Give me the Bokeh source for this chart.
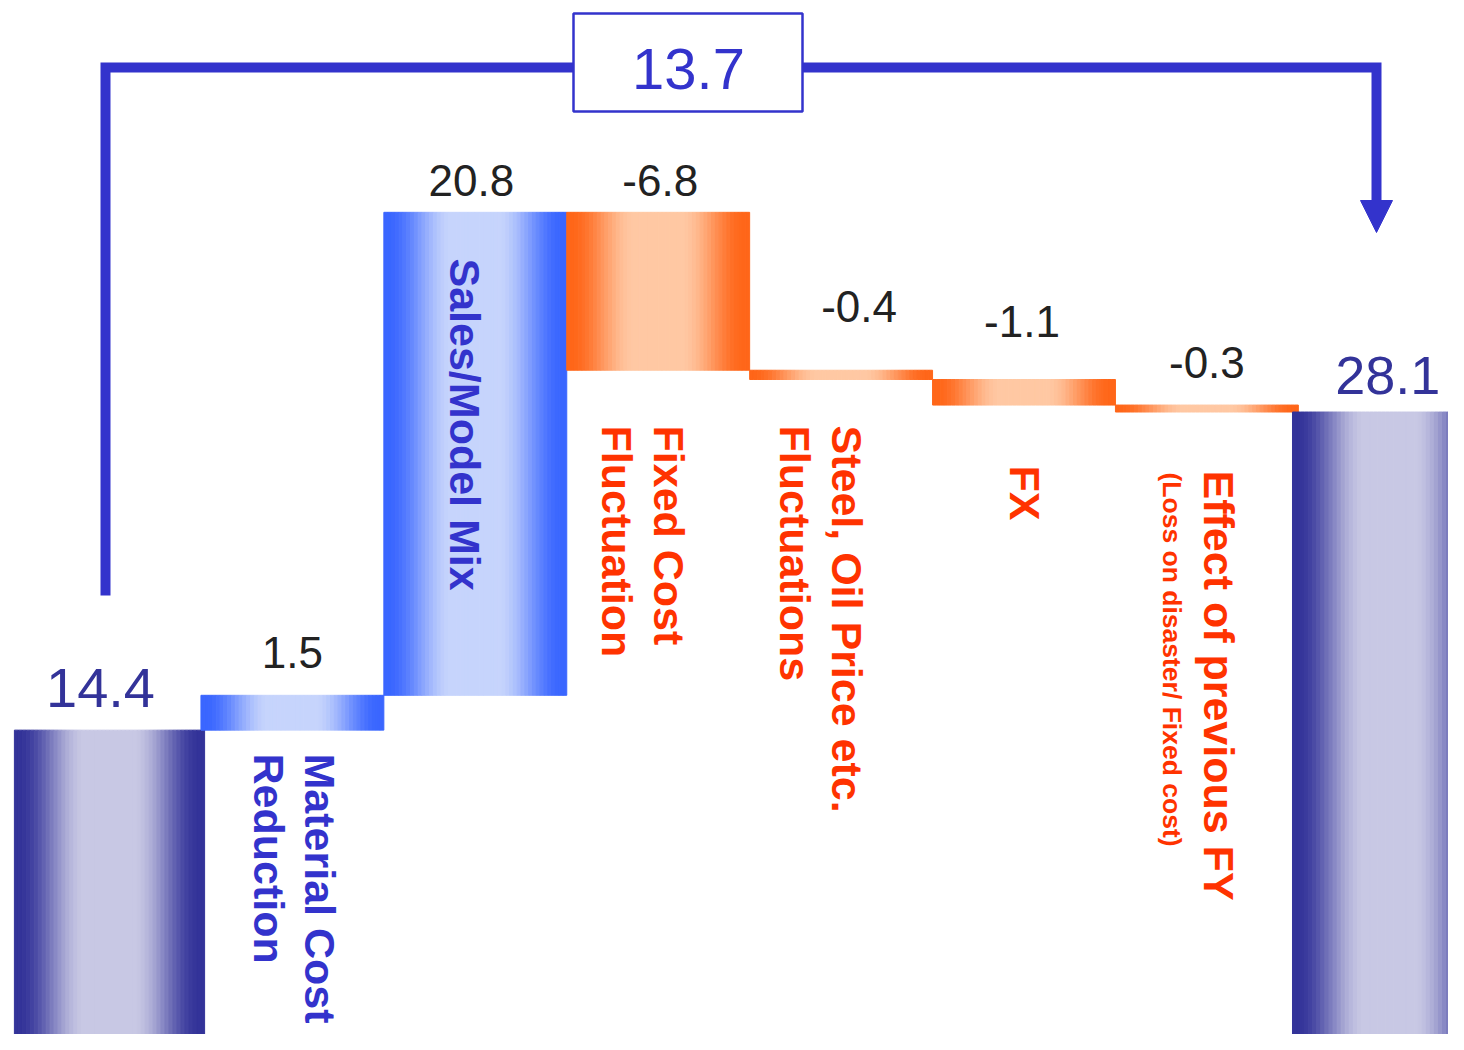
import numpy as np
from bokeh.plotting import figure
from bokeh.models import Range1d
from bokeh.core.properties import value
from bokeh.embed import file_html
from bokeh.resources import INLINE

# ---------------- data ----------------
categories = ["Previous FY", "Material Cost Reduction", "Sales/Model Mix",
              "Fixed Cost Fluctuation", "Steel, Oil Price etc. Fluctuations",
              "FX", "Effect of previous FY", "Current FY"]
values = [14.4, 1.5, 20.8, -6.8, -0.4, -1.1, -0.3, 28.1]
is_total = [True, False, False, False, False, False, False, True]
value_labels = ["14.4", "1.5", "20.8", "-6.8", "-0.4", "-1.1", "-0.3", "28.1"]
category_lines = [[], ["Material Cost", "Reduction"], ["Sales/Model Mix"],
                  ["Fixed Cost", "Fluctuation"],
                  ["Steel, Oil Price etc.", "Fluctuations"], ["FX"],
                  ["Effect of previous FY", "(Loss on disaster/ Fixed cost)"], []]

# ---------------- geometry helpers (reference pixel -> data) ----------------
X0, DX = 109.0, 182.9     # px of category 0 centre, px per category
Y0, DY = 1064.0, 23.22    # px of value 0, px per unit
W, H = 1448, 1034
EM_SHIFT = 0.36           # svg baseline correction (fraction of font size)


def dx(px):
    return (px - X0) / DX


def dy(py):
    return (Y0 - py) / DY


# ---------------- waterfall computation ----------------
bottoms, tops = [], []
run = 0.0
for v, tot in zip(values, is_total):
    if tot:
        bottoms.append(0.0)
        tops.append(v)
        run = v
    else:
        lo, hi = sorted([run, run + v])
        bottoms.append(lo)
        tops.append(hi)
        run += v

widths = [1.04, 1.0, 1.0, 1.0, 1.0, 1.0, 1.0, 1.064]

GRAD = {
    "total": ((51, 51, 153), (200, 200, 228)),
    "up": ((58, 102, 255), (198, 212, 252)),
    "down": ((255, 102, 25), (255, 200, 163)),
}


def kind(i):
    if is_total[i]:
        return "total"
    return "up" if values[i] > 0 else "down"


def mix(a, b, f):
    return "#%02x%02x%02x" % tuple(int(round(a[j] + (b[j] - a[j]) * f)) for j in range(3))


N = 48
sL, sR, sT, sB, sC = [], [], [], [], []
for i in range(len(values)):
    w = widths[i]
    left = i - w / 2
    c_edge, c_mid = GRAD[kind(i)]
    for k in range(N):
        t = (k + 0.5) / N
        d = 1 - abs(2 * t - 1)
        s = min(1.0, max(0.0, (d - 0.05) / 0.7))
        f = s * s * (3 - 2 * s)
        sL.append(left + w * k / N)
        sR.append(left + w * (k + 1) / N)
        sT.append(tops[i])
        sB.append(bottoms[i])
        sC.append(mix(c_edge, c_mid, f))

# ---------------- figure ----------------
p = figure(width=W, height=H, output_backend="svg", toolbar_location=None,
           x_range=Range1d(dx(0), dx(W)), y_range=Range1d(dy(H), dy(0)),
           min_border=0)
p.axis.visible = False
p.grid.visible = False
p.outline_line_color = None
p.background_fill_color = "white"
p.border_fill_color = "white"

p.quad(left=sL, right=sR, top=sT, bottom=sB, fill_color=sC, line_color=sC, line_width=1.0)

# ---------------- value labels ----------------
lab_dx_px = [-9, 0, -4, 2, 18, -2, 0, -2]          # horizontal nudge (px)
lab_gap_px = [22, 27, 16, 16, 48, 42, 27, 17]       # baseline gap above bar top (px)
lab_colors = ["#333399", "#222222", "#222222", "#222222", "#222222", "#222222", "#222222", "#333399"]
lab_sizes = [56, 44, 44, 44, 44, 44, 44, 54]
for i, txt in enumerate(value_labels):
    fs = lab_sizes[i]
    p.text(x=[i + lab_dx_px[i] / DX],
           y=[tops[i] + (lab_gap_px[i] + EM_SHIFT * fs) / DY], text=[txt],
           text_align="center", text_baseline="alphabetic",
           text_font=value("Liberation Sans"), text_font_size=f"{fs}px",
           text_color=lab_colors[i])

# ---------------- rotated category labels ----------------
# (baseline x in reference px, start y in reference px, size, color)
cat_pos = {
    (1, 0): (304, 753, 43, "#3333cc"), (1, 1): (253, 753, 43, "#3333cc"),
    (2, 0): (449, 258, 43, "#3333cc"),
    (3, 0): (653, 425, 43, "#ff3300"), (3, 1): (601, 425, 43, "#ff3300"),
    (4, 0): (831, 425, 43, "#ff3300"), (4, 1): (779, 425, 43, "#ff3300"),
    (5, 0): (1009, 465, 43, "#ff3300"),
    (6, 0): (1203, 470, 43, "#ff3300"), (6, 1): (1162, 472, 26.5, "#ff3300"),
}
for i, lines in enumerate(category_lines):
    for j, line in enumerate(lines):
        bx, sy, fs, col = cat_pos[(i, j)]
        p.text(x=[dx(bx + EM_SHIFT * fs)], y=[dy(sy)], text=[line], angle=-np.pi / 2,
               text_align="left", text_baseline="alphabetic",
               text_font=value("Liberation Sans"), text_font_style="bold",
               text_font_size=f"{fs}px", text_color=col)

# ---------------- bracket with total change ----------------
BLUE = "#3333cc"
change = values[-1] - values[0]
p.line(x=[dx(105), dx(105), dx(1376), dx(1376)], y=[dy(595), dy(67), dy(67), dy(204)],
       line_color=BLUE, line_width=10, line_join="miter")
p.patch(x=[dx(1360), dx(1392), dx(1376)], y=[dy(200), dy(200), dy(232)],
        fill_color=BLUE, line_color=BLUE, line_width=1)
p.quad(left=[dx(573)], right=[dx(802)], top=[dy(13)], bottom=[dy(111)],
       fill_color="white", line_color=BLUE, line_width=2.5)
fs13 = 58
p.text(x=[dx(688)], y=[dy(89 - EM_SHIFT * fs13)], text=[f"{change:.1f}"], text_align="center",
       text_baseline="alphabetic", text_font=value("Liberation Sans"),
       text_font_size=f"{fs13}px", text_color=BLUE)

open("out.html", "w").write(file_html(p, INLINE))
